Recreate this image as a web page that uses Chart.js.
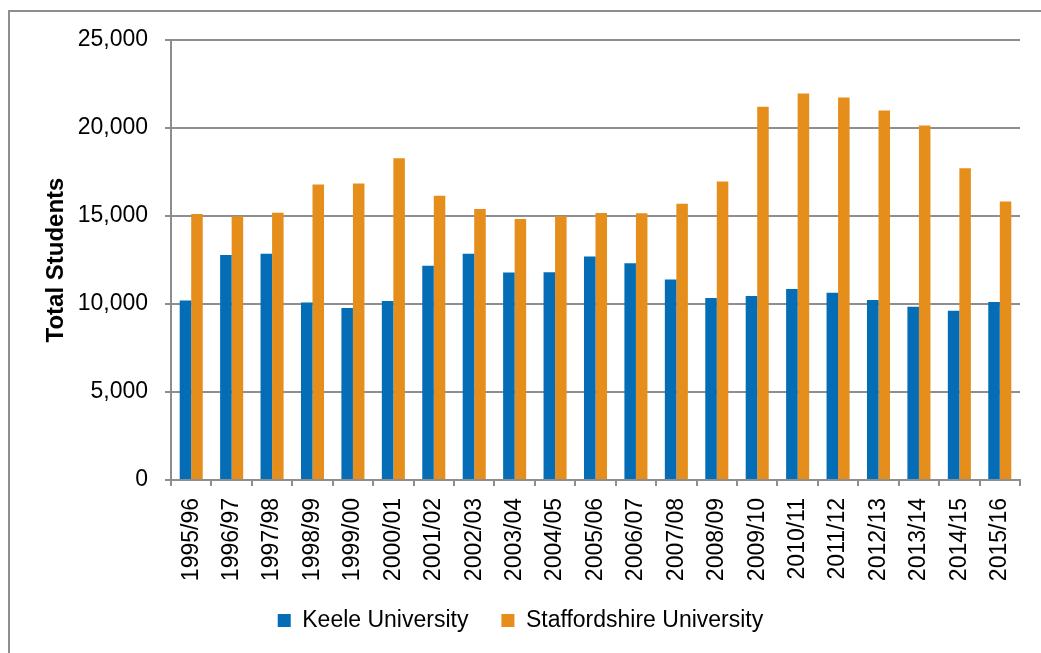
<!DOCTYPE html>
<html>
<head>
<meta charset="utf-8">
<script src="https://cdn.jsdelivr.net/npm/chart.js@4/dist/chart.umd.min.js"></script>
<style>
    body { margin: 0; background: #fff; }
    #wrap { position: relative; width: 1041px; height: 653px; overflow: hidden; }
    #frame { position: absolute; left: 8px; top: 10px; width: 1100px; height: 700px; border: 2px solid #8e8e8e; }
    #chart { position: absolute; left: 0; top: 0; }
</style>
</head>
<body>
<div id="wrap">
    <div id="frame"></div>
    <canvas id="chart" width="1041" height="653"></canvas>
</div>
<script>
// Academic years on the x axis
const years = ['1995/96', '1996/97', '1997/98', '1998/99', '1999/00', '2000/01', '2001/02',
    '2002/03', '2003/04', '2004/05', '2005/06', '2006/07', '2007/08', '2008/09', '2009/10',
    '2010/11', '2011/12', '2012/13', '2013/14', '2014/15', '2015/16'];

// Total students per university
const keele = [10200, 12790, 12850, 10080, 9770, 10170, 12170, 12850, 11790, 11810, 12700,
    12320, 11390, 10340, 10450, 10850, 10640, 10230, 9850, 9620, 10110];
const staffordshire = [15110, 14980, 15190, 16790, 16850, 18280, 16150, 15400, 14830, 14980, 15170,
    15150, 15700, 16960, 21210, 21960, 21740, 20990, 20140, 17720, 15830];

const seriesNames = ['Keele University', 'Staffordshire University'];
const seriesColors = ['#046db6', '#e68e1b'];

const fontFamily = '"Liberation Sans", Arial, sans-serif';
const axisGray = '#8e8e8e';

// Fix the legend height and nudge it so it sits where the reference has it
const legendPlacePlugin = {
    id: 'legendPlace',
    beforeInit(chart) {
        const fit = chart.legend.fit;
        chart.legend.fit = function () {
            fit.bind(chart.legend)();
            this.height = 68;
        };
    },
    afterLayout(chart) {
        chart.legend.left += 10.5;
        chart.legend.right += 10.5;
        chart.legend.top -= 9;
        chart.legend.bottom -= 9;
    }
};

const ctx = document.getElementById('chart').getContext('2d');
new Chart(ctx, {
    type: 'bar',
    data: {
        labels: years,
        datasets: [
            { label: seriesNames[0], data: keele, backgroundColor: seriesColors[0] },
            { label: seriesNames[1], data: staffordshire, backgroundColor: seriesColors[1] }
        ]
    },
    options: {
        responsive: false,
        animation: false,
        layout: { padding: { left: 0, right: 21, top: 40, bottom: 0 } },
        datasets: {
            bar: { categoryPercentage: 0.57, barPercentage: 1.0 }
        },
        plugins: {
            legend: {
                position: 'bottom',
                labels: {
                    color: '#000',
                    font: { family: fontFamily, size: 23 },
                    boxWidth: 13,
                    boxHeight: 13,
                    padding: 33
                }
            },
            tooltip: { enabled: false }
        },
        scales: {
            x: {
                grid: {
                    display: true,
                    drawOnChartArea: false,
                    drawTicks: true,
                    tickLength: 6,
                    color: axisGray,
                    lineWidth: 2,
                    offset: true
                },
                border: { color: axisGray, width: 2 },
                ticks: {
                    color: '#000',
                    font: { family: fontFamily, size: 23 },
                    minRotation: 90,
                    maxRotation: 90,
                    autoSkip: false,
                    padding: 12
                },
                afterFit(scale) {
                    scale.height = 105;
                }
            },
            y: {
                min: 0,
                max: 25000,
                grid: {
                    color: axisGray,
                    lineWidth: 2,
                    tickLength: 6
                },
                border: { color: axisGray, width: 2 },
                ticks: {
                    stepSize: 5000,
                    color: '#000',
                    font: { family: fontFamily, size: 23 },
                    padding: 17,
                    callback: value => value.toLocaleString('en-US')
                },
                title: {
                    display: true,
                    text: 'Total Students',
                    color: '#000',
                    font: { family: fontFamily, size: 24, weight: 'bold' },
                    padding: { top: 41.6, bottom: 0 }
                },
                afterFit(scale) {
                    scale.width = 171;
                }
            }
        }
    },
    plugins: [legendPlacePlugin]
});
</script>
</body>
</html>
